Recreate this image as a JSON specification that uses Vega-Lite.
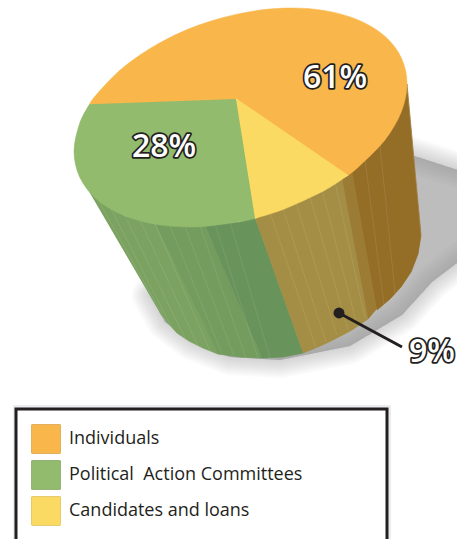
{"$schema":"https://vega.github.io/schema/vega-lite/v6.json","width":457,"height":539,"padding":0,"autosize":{"type":"fit","contains":"padding"},"background":"white","config":{"view":{"stroke":null}},
"datasets":{
"shadow":[{"o":1,"x":402,"y":152},{"o":2,"x":520,"y":190},{"o":3,"x":520,"y":215},{"o":4,"x":432,"y":282},{"o":5,"x":402,"y":315},{"o":6,"x":350,"y":346},{"o":7,"x":280,"y":360},{"o":8,"x":230,"y":357},{"o":9,"x":192,"y":342},{"o":10,"x":165,"y":322},{"o":11,"x":150,"y":295},{"o":12,"x":200,"y":250}],
"wall":[
{"piece":"g1","o":1,"x":80,"y":176},{"piece":"g1","o":2,"x":100,"y":200},{"piece":"g1","o":3,"x":125,"y":216},{"piece":"g1","o":4,"x":155,"y":224},{"piece":"g1","o":5,"x":218,"y":354},{"piece":"g1","o":6,"x":203,"y":348},{"piece":"g1","o":7,"x":189,"y":341},{"piece":"g1","o":8,"x":177,"y":333},{"piece":"g1","o":9,"x":168,"y":323},{"piece":"g1","o":10,"x":160,"y":313},
{"piece":"g2","o":1,"x":155,"y":224},{"piece":"g2","o":2,"x":205,"y":226},{"piece":"g2","o":3,"x":262,"y":358},{"piece":"g2","o":4,"x":240,"y":357},{"piece":"g2","o":5,"x":218,"y":354},
{"piece":"g3","o":1,"x":205,"y":226},{"piece":"g3","o":2,"x":240,"y":222},{"piece":"g3","o":3,"x":255,"y":218},{"piece":"g3","o":4,"x":303,"y":353},{"piece":"g3","o":5,"x":283,"y":357},{"piece":"g3","o":6,"x":262,"y":358},
{"piece":"o1","o":1,"x":255,"y":218},{"piece":"o1","o":2,"x":284,"y":209},{"piece":"o1","o":3,"x":324,"y":191},{"piece":"o1","o":4,"x":342,"y":179},{"piece":"o1","o":5,"x":368,"y":319},{"piece":"o1","o":6,"x":352,"y":330},{"piece":"o1","o":7,"x":333,"y":340},{"piece":"o1","o":8,"x":318,"y":347},{"piece":"o1","o":9,"x":303,"y":353},
{"piece":"o2","o":1,"x":342,"y":179},{"piece":"o2","o":2,"x":355,"y":170},{"piece":"o2","o":3,"x":379,"y":306},{"piece":"o2","o":4,"x":368,"y":319},
{"piece":"b","o":1,"x":352,"y":170},{"piece":"b","o":2,"x":385,"y":140},{"piece":"b","o":3,"x":401,"y":112},{"piece":"b","o":4,"x":407,"y":84},{"piece":"b","o":5,"x":414,"y":160},{"piece":"b","o":6,"x":421,"y":235},{"piece":"b","o":7,"x":418,"y":254},{"piece":"b","o":8,"x":411,"y":272},{"piece":"b","o":9,"x":401,"y":287},{"piece":"b","o":10,"x":390,"y":299},{"piece":"b","o":11,"x":377,"y":310}],
"streak":[
{"l":1,"o":1,"x":96,"y":196},{"l":1,"o":2,"x":165,"y":320},{"l":2,"o":1,"x":110,"y":207},{"l":2,"o":2,"x":172,"y":328},{"l":3,"o":1,"x":125,"y":216},{"l":3,"o":2,"x":185,"y":338},{"l":4,"o":1,"x":140,"y":220},{"l":4,"o":2,"x":198,"y":346},{"l":5,"o":1,"x":155,"y":224},{"l":5,"o":2,"x":210,"y":351},{"l":6,"o":1,"x":170,"y":226},{"l":6,"o":2,"x":222,"y":354},{"l":7,"o":1,"x":185,"y":227},{"l":7,"o":2,"x":234,"y":356},{"l":8,"o":1,"x":200,"y":226},{"l":8,"o":2,"x":246,"y":358},{"l":9,"o":1,"x":215,"y":224},{"l":9,"o":2,"x":258,"y":358},{"l":10,"o":1,"x":230,"y":222},{"l":10,"o":2,"x":270,"y":358},
{"l":11,"o":1,"x":270,"y":212},{"l":11,"o":2,"x":316,"y":348},{"l":12,"o":1,"x":283,"y":209},{"l":12,"o":2,"x":326,"y":342},{"l":13,"o":1,"x":296,"y":203},{"l":13,"o":2,"x":337,"y":335},{"l":14,"o":1,"x":310,"y":197},{"l":14,"o":2,"x":348,"y":330},{"l":15,"o":1,"x":322,"y":190},{"l":15,"o":2,"x":357,"y":325},{"l":16,"o":1,"x":335,"y":182},{"l":16,"o":2,"x":365,"y":318},
{"l":17,"o":1,"x":365,"y":160},{"l":17,"o":2,"x":384,"y":305},{"l":18,"o":1,"x":380,"y":145},{"l":18,"o":2,"x":395,"y":293},{"l":19,"o":1,"x":407,"y":85},{"l":19,"o":2,"x":421,"y":235}],
"arc":[
{"source":"Individuals","o":1,"x":89.6,"y":104.2},{"source":"Individuals","o":2,"x":96.3,"y":94.7},{"source":"Individuals","o":3,"x":122.8,"y":67.8},{"source":"Individuals","o":4,"x":157.3,"y":44.2},{"source":"Individuals","o":5,"x":197.4,"y":25.6},{"source":"Individuals","o":6,"x":240.5,"y":13.4},{"source":"Individuals","o":7,"x":283.6,"y":8.1},{"source":"Individuals","o":8,"x":323.8,"y":10.4},{"source":"Individuals","o":9,"x":358.2,"y":19.9},{"source":"Individuals","o":10,"x":384.7,"y":36.1},{"source":"Individuals","o":11,"x":401.3,"y":57.8},{"source":"Individuals","o":12,"x":407,"y":83.7},{"source":"Individuals","o":13,"x":401.3,"y":111.8},{"source":"Individuals","o":14,"x":384.7,"y":140.3},{"source":"Individuals","o":15,"x":358.2,"y":167.2},{"source":"Individuals","o":16,"x":347.5,"y":175.5},
{"source":"Political\u00a0 Action Committees","o":1,"x":255,"y":218.3},{"source":"Political\u00a0 Action Committees","o":2,"x":240.5,"y":221.6},{"source":"Political\u00a0 Action Committees","o":3,"x":197.4,"y":226.9},{"source":"Political\u00a0 Action Committees","o":4,"x":157.3,"y":224.6},{"source":"Political\u00a0 Action Committees","o":5,"x":122.8,"y":215.1},{"source":"Political\u00a0 Action Committees","o":6,"x":96.3,"y":198.9},{"source":"Political\u00a0 Action Committees","o":7,"x":79.7,"y":177.2},{"source":"Political\u00a0 Action Committees","o":8,"x":74,"y":151.3},{"source":"Political\u00a0 Action Committees","o":9,"x":79.7,"y":123.2},{"source":"Political\u00a0 Action Committees","o":10,"x":89.6,"y":104.2},
{"source":"Candidates and loans","o":1,"x":347.5,"y":175.5},{"source":"Candidates and loans","o":2,"x":323.8,"y":190.8},{"source":"Candidates and loans","o":3,"x":283.6,"y":209.3},{"source":"Candidates and loans","o":4,"x":255,"y":218.3}],
"wedge":[
{"source":"Political\u00a0 Action Committees","o":1,"x":89.6,"y":104.2},{"source":"Political\u00a0 Action Committees","o":2,"x":255,"y":218.3},{"source":"Political\u00a0 Action Committees","o":3,"x":236,"y":99},
{"source":"Candidates and loans","o":1,"x":255,"y":218.3},{"source":"Candidates and loans","o":2,"x":347.5,"y":175.5},{"source":"Candidates and loans","o":3,"x":236,"y":99}],
"labels":[{"t":"61%","x":335,"y":78},{"t":"28%","x":164,"y":147},{"t":"9%","x":432,"y":352}],
"leader":[{"o":1,"x":339,"y":313},{"o":2,"x":402,"y":347}],
"dot":[{"x":339,"y":313}],
"boxshadow":[{"x":13,"x2":391,"y":405,"y2":570}],
"box":[{"x":16,"x2":387,"y":409,"y2":570}],
"swatch":[{"x":46,"y":439},{"x":46,"y":475},{"x":46,"y":511}]
},
"encoding":{"x":{"field":"x","type":"quantitative","axis":null,"scale":{"domain":[0,457],"nice":false,"zero":false}},"y":{"field":"y","type":"quantitative","axis":null,"scale":{"domain":[539,0],"nice":false,"zero":false}}},
"resolve":{"scale":{"fill":"independent","stroke":"independent"}},
"layer":[
{"data":{"name":"shadow"},"mark":{"type":"line","fill":"#8e8f94","stroke":"#8e8f94","strokeWidth":36,"strokeJoin":"round","strokeOpacity":0.045,"fillOpacity":0.09,"clip":true},"encoding":{"order":{"field":"o"}}},
{"data":{"name":"shadow"},"mark":{"type":"line","fill":"#8e8f94","stroke":"#8e8f94","strokeWidth":32,"strokeJoin":"round","strokeOpacity":0.045,"fillOpacity":0.09,"clip":true},"encoding":{"order":{"field":"o"}}},
{"data":{"name":"shadow"},"mark":{"type":"line","fill":"#8e8f94","stroke":"#8e8f94","strokeWidth":28,"strokeJoin":"round","strokeOpacity":0.045,"fillOpacity":0.09,"clip":true},"encoding":{"order":{"field":"o"}}},
{"data":{"name":"shadow"},"mark":{"type":"line","fill":"#8e8f94","stroke":"#8e8f94","strokeWidth":24,"strokeJoin":"round","strokeOpacity":0.045,"fillOpacity":0.09,"clip":true},"encoding":{"order":{"field":"o"}}},
{"data":{"name":"shadow"},"mark":{"type":"line","fill":"#8e8f94","stroke":"#8e8f94","strokeWidth":20,"strokeJoin":"round","strokeOpacity":0.045,"fillOpacity":0.09,"clip":true},"encoding":{"order":{"field":"o"}}},
{"data":{"name":"shadow"},"mark":{"type":"line","fill":"#8e8f94","stroke":"#8e8f94","strokeWidth":16,"strokeJoin":"round","strokeOpacity":0.045,"fillOpacity":0.09,"clip":true},"encoding":{"order":{"field":"o"}}},
{"data":{"name":"shadow"},"mark":{"type":"line","fill":"#8e8f94","stroke":"#8e8f94","strokeWidth":12,"strokeJoin":"round","strokeOpacity":0.045,"fillOpacity":0.09,"clip":true},"encoding":{"order":{"field":"o"}}},
{"data":{"name":"shadow"},"mark":{"type":"line","fill":"#8e8f94","stroke":"#8e8f94","strokeWidth":8,"strokeJoin":"round","strokeOpacity":0.045,"fillOpacity":0.09,"clip":true},"encoding":{"order":{"field":"o"}}},
{"data":{"name":"shadow"},"mark":{"type":"line","fill":"#8e8f94","stroke":"#8e8f94","strokeWidth":4,"strokeJoin":"round","strokeOpacity":0.045,"fillOpacity":0.09,"clip":true},"encoding":{"order":{"field":"o"}}},
{"data":{"name":"wall"},"mark":{"type":"line","strokeWidth":0.8},"encoding":{"order":{"field":"o"},"fill":{"field":"piece","legend":null,"scale":{"domain":["g1","g2","g3","o1","o2","b"],"range":["#7ba261","#739c5e","#68935a","#a48e45","#9c7c35","#946d27"]}},"stroke":{"field":"piece","legend":null,"scale":{"domain":["g1","g2","g3","o1","o2","b"],"range":["#7ba261","#739c5e","#68935a","#a48e45","#9c7c35","#946d27"]}}}},
{"data":{"name":"streak"},"mark":{"type":"line","stroke":"white","strokeWidth":0.6,"strokeOpacity":0.17},"encoding":{"order":{"field":"o"},"detail":{"field":"l"}}},
{"data":{"name":"arc"},"mark":{"type":"line","interpolate":"cardinal","strokeWidth":0.5},"encoding":{"order":{"field":"o"},"fill":{"field":"source","title":null,"scale":{"domain":["Individuals","Political\u00a0 Action Committees","Candidates and loans"],"range":["#f9b64b","#92bb6d","#fbda63"]},"legend":{"orient":"none","legendX":31,"legendY":424,"title":null,"symbolType":"square","symbolSize":784,"symbolOpacity":1,"labelFont":"Open Sans","labelFontSize":18,"labelColor":"#231f20","labelOffset":8,"rowPadding":2,"padding":0,"labelLimit":320}},"stroke":{"field":"source","legend":null,"scale":{"domain":["Individuals","Political\u00a0 Action Committees","Candidates and loans"],"range":["#f9b64b","#92bb6d","#fbda63"]}}}},
{"data":{"name":"wedge"},"mark":{"type":"line","strokeWidth":1.2},"encoding":{"order":{"field":"o"},"fill":{"field":"source","legend":null,"scale":{"domain":["Individuals","Political\u00a0 Action Committees","Candidates and loans"],"range":["#f9b64b","#92bb6d","#fbda63"]}},"stroke":{"field":"source","legend":null,"scale":{"domain":["Individuals","Political\u00a0 Action Committees","Candidates and loans"],"range":["#f9b64b","#92bb6d","#fbda63"]}}}},
{"data":{"name":"leader"},"mark":{"type":"line","stroke":"#231f20","strokeWidth":3},"encoding":{"order":{"field":"o"}}},
{"data":{"name":"dot"},"mark":{"type":"point","filled":true,"fill":"#231f20","opacity":1,"size":120,"shape":"circle"}},
{"data":{"name":"labels"},"mark":{"type":"text","font":"Open Sans","fontWeight":600,"fontSize":32,"baseline":"middle","align":"center","stroke":"#231f20","strokeWidth":3.5,"strokeJoin":"round","fill":"#231f20"},"encoding":{"text":{"field":"t"}}},
{"data":{"name":"labels"},"mark":{"type":"text","font":"Open Sans","fontWeight":600,"fontSize":32,"baseline":"middle","align":"center","fill":"white"},"encoding":{"text":{"field":"t"}}},
{"data":{"name":"boxshadow"},"mark":{"type":"rect","fill":"#ececee","clip":true},"encoding":{"x2":{"field":"x2"},"y2":{"field":"y2"}}},
{"data":{"name":"box"},"mark":{"type":"rect","fill":"white","stroke":"#231f20","strokeWidth":3,"clip":true},"encoding":{"x2":{"field":"x2"},"y2":{"field":"y2"}}},
{"data":{"name":"swatch"},"mark":{"type":"point","shape":"square","filled":false,"size":784,"stroke":"#3a3a30","strokeWidth":1,"opacity":1}}
]}
